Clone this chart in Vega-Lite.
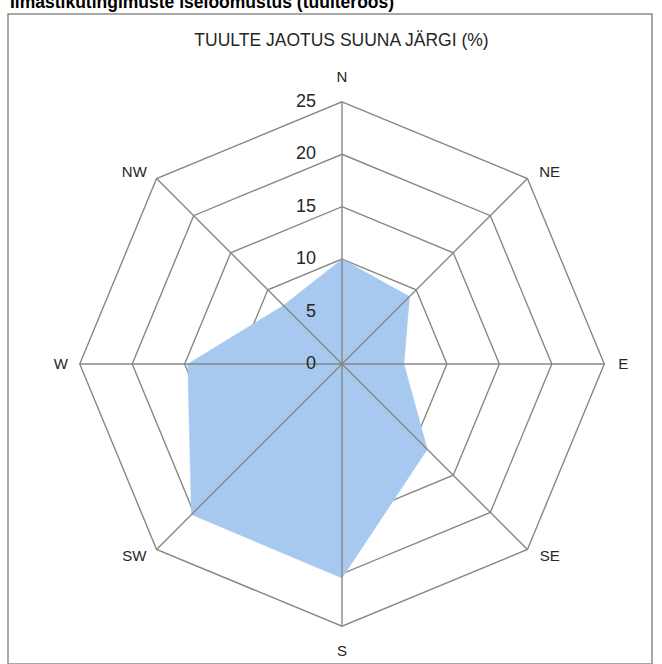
{
  "$schema": "https://vega.github.io/schema/vega-lite/v6.json",
  "width": 644,
  "height": 650,
  "autosize": "none",
  "padding": {"left": 8, "top": 14, "right": 10, "bottom": 0},
  "background": "white",
  "config": {
    "view": {"stroke": "#8c8c8c", "strokeWidth": 1.5},
    "font": "Liberation Sans"
  },
  "title": {
    "text": "Ilmastikutingimuste iseloomustus (tuulteroos)",
    "anchor": "start",
    "frame": "group",
    "offset": 0,
    "baseline": "alphabetic",
    "dy": 11,
    "dx": 2,
    "font": "Liberation Sans",
    "fontSize": 17.5,
    "fontWeight": "bold",
    "color": "#000000"
  },
  "datasets": {
    "dirs": [
      {"dir": "N", "idx": 0, "value": 10},
      {"dir": "NE", "idx": 1, "value": 9.1},
      {"dir": "E", "idx": 2, "value": 5.9},
      {"dir": "SE", "idx": 3, "value": 11.5},
      {"dir": "S", "idx": 4, "value": 20.4},
      {"dir": "SW", "idx": 5, "value": 20.3},
      {"dir": "W", "idx": 6, "value": 14.7},
      {"dir": "NW", "idx": 7, "value": 7.9}
    ],
    "rings": [
      {"ring": 5, "idx": [0, 1, 2, 3, 4, 5, 6, 7]},
      {"ring": 10, "idx": [0, 1, 2, 3, 4, 5, 6, 7]},
      {"ring": 15, "idx": [0, 1, 2, 3, 4, 5, 6, 7]},
      {"ring": 20, "idx": [0, 1, 2, 3, 4, 5, 6, 7]},
      {"ring": 25, "idx": [0, 1, 2, 3, 4, 5, 6, 7]}
    ],
    "ticks": [
      {"tick": 0}, {"tick": 5}, {"tick": 10}, {"tick": 15}, {"tick": 20}, {"tick": 25}
    ]
  },
  "layer": [
    {
      "data": {"name": "rings"},
      "transform": [
        {"flatten": ["idx"]},
        {"calculate": "datum.ring * sin(datum.idx * PI / 4)", "as": "rx"},
        {"calculate": "datum.ring * cos(datum.idx * PI / 4)", "as": "ry"}
      ],
      "mark": {"type": "line", "interpolate": "linear-closed", "stroke": "#878787", "strokeWidth": 1.4},
      "encoding": {
        "x": {
          "field": "rx", "type": "quantitative",
          "scale": {"domain": [-31.84, 29.55], "nice": false, "zero": false},
          "axis": {
            "orient": "top", "domain": false, "ticks": false, "labels": false, "grid": false,
            "title": "TUULTE JAOTUS SUUNA JÄRGI (%)",
            "titleFont": "Liberation Sans", "titleFontSize": 17.5, "titleFontWeight": "normal",
            "titleColor": "#262626", "titleX": 333, "titleY": 26, "titleAlign": "center",
            "titleBaseline": "middle"
          }
        },
        "y": {
          "field": "ry", "type": "quantitative",
          "scale": {"domain": [-28.6, 33.37], "nice": false, "zero": false},
          "axis": null
        },
        "detail": {"field": "ring", "type": "nominal"},
        "order": {"field": "idx", "type": "quantitative"}
      }
    },
    {
      "data": {"name": "dirs"},
      "transform": [
        {"calculate": "datum.value * sin(datum.idx * PI / 4)", "as": "px"},
        {"calculate": "datum.value * cos(datum.idx * PI / 4)", "as": "py"}
      ],
      "mark": {"type": "line", "interpolate": "linear-closed", "fill": "#a7c9ef", "stroke": "#a7c9ef", "strokeWidth": 0.5},
      "encoding": {
        "x": {"field": "px", "type": "quantitative"},
        "y": {"field": "py", "type": "quantitative"},
        "order": {"field": "idx", "type": "quantitative"}
      }
    },
    {
      "data": {"name": "dirs"},
      "transform": [
        {"calculate": "25 * sin(datum.idx * PI / 4)", "as": "ex"},
        {"calculate": "25 * cos(datum.idx * PI / 4)", "as": "ey"},
        {"calculate": "0 * datum.idx", "as": "cx"}
      ],
      "mark": {"type": "rule", "stroke": "#878787", "strokeWidth": 1.4},
      "encoding": {
        "x": {"field": "cx", "type": "quantitative"},
        "y": {"field": "cx", "type": "quantitative"},
        "x2": {"field": "ex"},
        "y2": {"field": "ey"}
      }
    },
    {
      "data": {"name": "ticks"},
      "transform": [
        {"calculate": "0 * datum.tick", "as": "cx"}
      ],
      "mark": {"type": "text", "align": "right", "baseline": "middle", "dx": -26, "font": "Liberation Sans", "fontSize": 18, "color": "#262626"},
      "encoding": {
        "x": {"field": "cx", "type": "quantitative"},
        "y": {"field": "tick", "type": "quantitative"},
        "text": {"field": "tick", "type": "quantitative"}
      }
    },
    {
      "data": {"name": "dirs"},
      "transform": [
        {"calculate": "(datum.idx % 2 == 0 ? 26.8 : 28.0) * sin(datum.idx * PI / 4)", "as": "lx"},
        {"calculate": "(datum.idx % 2 == 0 ? 27.4 : 25.9) * cos(datum.idx * PI / 4)", "as": "ly"}
      ],
      "mark": {"type": "text", "align": "center", "baseline": "middle", "font": "Liberation Sans", "fontSize": 15, "color": "#262626"},
      "encoding": {
        "x": {"field": "lx", "type": "quantitative"},
        "y": {"field": "ly", "type": "quantitative"},
        "text": {"field": "dir", "type": "nominal"}
      }
    }
  ]
}
